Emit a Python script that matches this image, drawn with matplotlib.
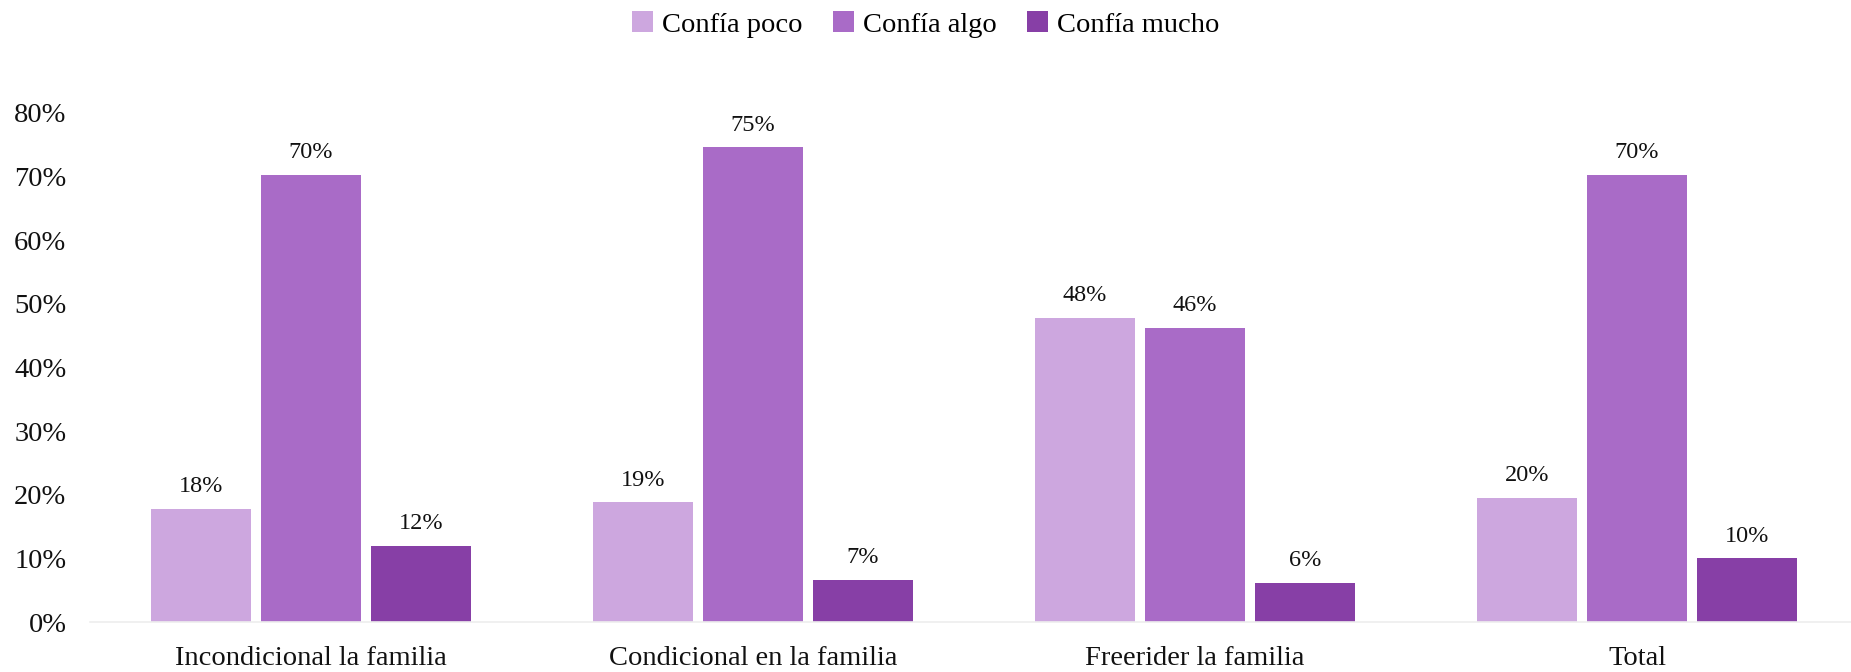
import matplotlib
matplotlib.use("Agg")
import matplotlib.pyplot as plt
import numpy as np
from matplotlib.ticker import FuncFormatter

categories = ["Incondicional la familia", "Condicional en la familia", "Freerider la familia", "Total"]
series_names = ["Confía poco", "Confía algo", "Confía mucho"]
poco = [0.178, 0.188, 0.478, 0.195]
algo = [0.703, 0.746, 0.462, 0.703]
mucho = [0.120, 0.066, 0.061, 0.100]
labels_poco = ["18%", "19%", "48%", "20%"]
labels_algo = ["70%", "75%", "46%", "70%"]
labels_mucho = ["12%", "7%", "6%", "10%"]
colors = ["#CDA7DF", "#A96BC7", "#873FA6"]
yticks = [0, 0.1, 0.2, 0.3, 0.4, 0.5, 0.6, 0.7, 0.8]

plt.rcParams['font.family'] = ['Liberation Serif', 'DejaVu Serif']

W, H = 1851, 672
fig = plt.figure(figsize=(W / 100, H / 100), dpi=100)
ax = fig.add_axes([90 / W, (H - 622) / H, 1768 / W, (622 - 113) / H])

x = np.arange(len(categories))
width = 0.226
step = 0.249
series = [poco, algo, mucho]
labels = [labels_poco, labels_algo, labels_mucho]
for i, (vals, labs, col, name) in enumerate(zip(series, labels, colors, series_names)):
    pos = x + (i - 1) * step
    bars = ax.bar(pos, vals, width, color=col, label=name, edgecolor='none', zorder=2)
    for b, lab in zip(bars, labs):
        ax.annotate(lab, (b.get_x() + b.get_width() / 2, b.get_height()),
                    xytext=(0, 16), textcoords='offset points',
                    ha='center', va='center', fontsize=17.5, color='#111111')

ax.set_xlim(-0.5, 3.5)
ax.set_ylim(0, 0.8)
ax.set_yticks(yticks)
ax.yaxis.set_major_formatter(FuncFormatter(lambda v, p: f"{round(v * 100):d}%"))
ax.set_xticks(x)
ax.set_xticklabels(categories)
ax.tick_params(axis='y', length=0, pad=17, labelsize=20.5, labelcolor='#111111')
ax.tick_params(axis='x', length=0, pad=17, labelsize=20.5, labelcolor='#111111')
for s in ['top', 'right', 'left']:
    ax.spines[s].set_visible(False)
ax.spines['bottom'].set_color('#EEEEEE')
ax.spines['bottom'].set_linewidth(1.2)

fig.legend(loc='upper center', bbox_to_anchor=(0.5, 1.0), ncol=3, frameon=False,
           fontsize=20.5, handlelength=0.75, handleheight=0.75, handletextpad=0.3,
           columnspacing=1.07, borderaxespad=0.0)

fig.savefig("out.png", dpi=100)
